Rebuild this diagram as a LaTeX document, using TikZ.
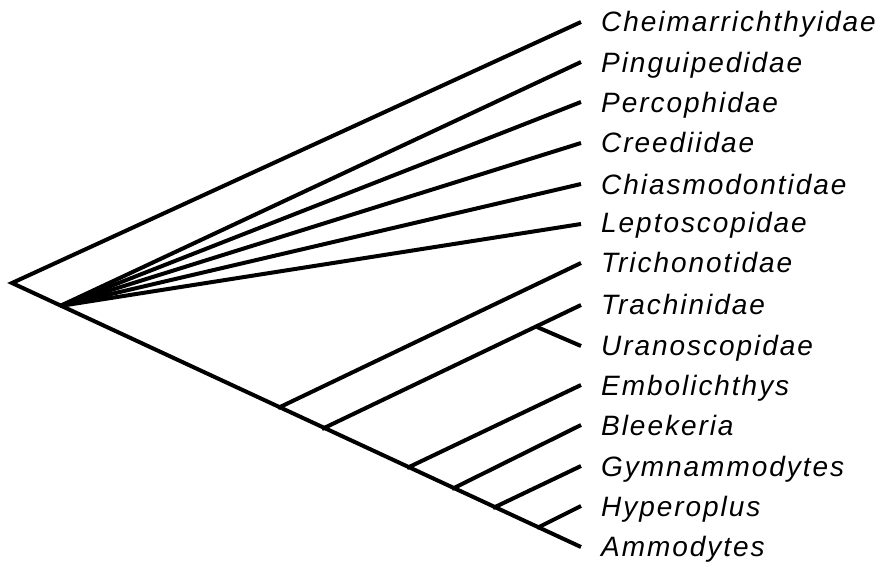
\documentclass[tikz,border=0pt]{standalone}
\usepackage{fontspec}
\setmainfont{Liberation Sans}
\begin{document}
\begin{tikzpicture}[x=1pt,y=-1pt,
  branch/.style={line width=4pt,line join=miter,line cap=butt},
  taxon/.style={anchor=base west,inner sep=0pt,
    font=\fontsize{28}{32}\selectfont\itshape\addfontfeature{LetterSpace=7}}]
\useasboundingbox (0,0) rectangle (886,569);
% internal nodes
\coordinate (root) at (12,283);
\coordinate (fan) at (60,306);
\coordinate (n1) at (278,408);
\coordinate (n2) at (322,429);
\coordinate (n3) at (537,327);
\coordinate (n4) at (407,468);
\coordinate (n5) at (452,489);
\coordinate (n6) at (493,508);
\coordinate (n7) at (537,528);
% tips
\foreach \i/\y in {1/22,2/62,3/102,4/143,5/184,6/224,7/263,8/305,9/346,10/385,11/425,12/466,13/506,14/547}
  \coordinate (t\i) at (581,\y);
% labels
\node[taxon] (l1) at (601,32) {Cheimarrichthyidae};
\node[taxon] (l2) at (601,73) {Pinguipedidae};
\node[taxon] (l3) at (601,113) {Percophidae};
\node[taxon] (l4) at (601,153) {Creediidae};
\node[taxon] (l5) at (601,195) {Chiasmodontidae};
\node[taxon] (l6) at (601,233) {Leptoscopidae};
\node[taxon] (l7) at (601,273) {Trichonotidae};
\node[taxon] (l8) at (601,315) {Trachinidae};
\node[taxon] (l9) at (601,355) {Uranoscopidae};
\node[taxon] (l10) at (601,395) {Embolichthys};
\node[taxon] (l11) at (601,435) {Bleekeria};
\node[taxon] (l12) at (601,476) {Gymnammodytes};
\node[taxon] (l13) at (601,516) {Hyperoplus};
\node[taxon] (l14) at (601,556) {Ammodytes};
% branches
\draw[branch] (t1) -- (root) -- (t14);
\foreach \i in {2,...,6} \draw[branch] (fan) -- (t\i);
\draw[branch] (n1) -- (t7);
\draw[branch] (n2) -- (t8);
\draw[branch] (n3) -- (t9);
\draw[branch] (n4) -- (t10);
\draw[branch] (n5) -- (t11);
\draw[branch] (n6) -- (t12);
\draw[branch] (n7) -- (t13);
\end{tikzpicture}
\end{document}
